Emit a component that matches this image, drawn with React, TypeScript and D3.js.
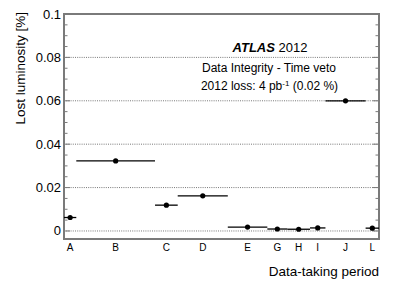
import * as d3 from 'd3';

// Data-taking periods of 2012, their integrated luminosity (fb^-1, bin widths)
// and the luminosity lost to the time veto (%).
const periods = ['A', 'B', 'C', 'D', 'E', 'G', 'H', 'I', 'J', 'L'];
const periodLumi = [0.78, 5.0, 1.44, 3.18, 2.51, 1.27, 1.44, 0.98, 2.55, 0.85];
const lostLumi = [0.0062, 0.0323, 0.0119, 0.0162, 0.0018, 0.0009, 0.0008, 0.0014, 0.06, 0.0013];

const WIDTH = 399;
const HEIGHT = 286;
const FRAME = { left: 64, right: 379, top: 14, bottom: 239 };
const FONT = '"Liberation Sans", Arial, Helvetica, sans-serif';
const FRAME_COLOR = '#7a7a7a';

export default function App() {
  const edges = [0, ...d3.cumsum(periodLumi)];
  const total = edges[edges.length - 1];

  const x = d3.scaleLinear().domain([0, total]).range([FRAME.left, FRAME.right]);
  const y = d3.scaleLinear().domain([-0.0037, 0.1]).range([FRAME.bottom, FRAME.top]);

  const major = y.ticks(5);
  const minor = y.ticks(20).filter((t) => t >= 0);
  const fmt = d3.format('~g');

  const bins = periods.map((p, i) => ({
    label: p,
    x0: edges[i],
    x1: edges[i + 1],
    mid: (edges[i] + edges[i + 1]) / 2,
    value: lostLumi[i],
  }));

  return (
    <svg
      width={WIDTH}
      height={HEIGHT}
      style={{ position: 'absolute', left: 0, top: 0, background: '#fff' }}
      fontFamily={FONT}
    >
      {/* grid lines */}
      {major
        .filter((t) => t < 0.1)
        .map((t) => (
          <line
            key={'g' + t}
            x1={FRAME.left}
            x2={FRAME.right}
            y1={y(t)}
            y2={y(t)}
            stroke="#555"
            strokeWidth={0.8}
            strokeDasharray="1,1.2"
          />
        ))}

      {/* y ticks, both sides, pointing inwards */}
      {minor.map((t) => {
        const isMajor = major.some((m) => Math.abs(m - t) < 1e-9);
        const len = isMajor ? 6 : 3.5;
        return (
          <g key={'t' + t} stroke={FRAME_COLOR} strokeWidth={1}>
            <line x1={FRAME.left} x2={FRAME.left + len} y1={y(t)} y2={y(t)} />
            <line x1={FRAME.right} x2={FRAME.right - len} y1={y(t)} y2={y(t)} />
          </g>
        );
      })}

      {/* frame */}
      <rect
        x={FRAME.left}
        y={FRAME.top}
        width={FRAME.right - FRAME.left}
        height={FRAME.bottom - FRAME.top}
        fill="none"
        stroke={FRAME_COLOR}
        strokeWidth={2}
      />

      {/* y tick labels */}
      {major.map((t) => (
        <text
          key={'l' + t}
          x={FRAME.left - 3}
          y={y(t) + 4.5}
          textAnchor="end"
          fontSize={13}
          fill="#000"
        >
          {fmt(t)}
        </text>
      ))}

      {/* period labels */}
      {bins.map((b) => (
        <text
          key={'p' + b.label}
          x={x(b.mid)}
          y={250.5}
          textAnchor="middle"
          fontSize={10}
          fill="#000"
        >
          {b.label}
        </text>
      ))}

      {/* data points with horizontal bars spanning each period */}
      {bins.map((b) => (
        <g key={'d' + b.label}>
          <line
            x1={x(b.x0)}
            x2={x(b.x1)}
            y1={y(b.value)}
            y2={y(b.value)}
            stroke="#000"
            strokeWidth={1.3}
          />
          <circle cx={x(b.mid)} cy={y(b.value)} r={2.6} fill="#000" />
        </g>
      ))}

      {/* axis titles */}
      <text
        transform={`translate(25,${FRAME.top - 2}) rotate(-90)`}
        textAnchor="end"
        fontSize={13.5}
        fill="#000"
      >
        Lost luminosity [%]
      </text>
      <text x={FRAME.right} y={276} textAnchor="end" fontSize={13.5} fill="#000">
        Data-taking period
      </text>

      {/* labels */}
      <text x={270} y={52.3} textAnchor="middle" fontSize={13} fill="#000">
        <tspan fontWeight="bold" fontStyle="italic">ATLAS</tspan>
        <tspan> 2012</tspan>
      </text>
      <text x={269} y={72.3} textAnchor="middle" fontSize={12} fill="#000">
        Data Integrity - Time veto
      </text>
      <text x={269.5} y={90} textAnchor="middle" fontSize={12} fill="#000">
        2012 loss: 4 pb
        <tspan fontSize={8} dy={-4.5}>-1</tspan>
        <tspan dy={4.5}> (0.02 %)</tspan>
      </text>
    </svg>
  );
}
